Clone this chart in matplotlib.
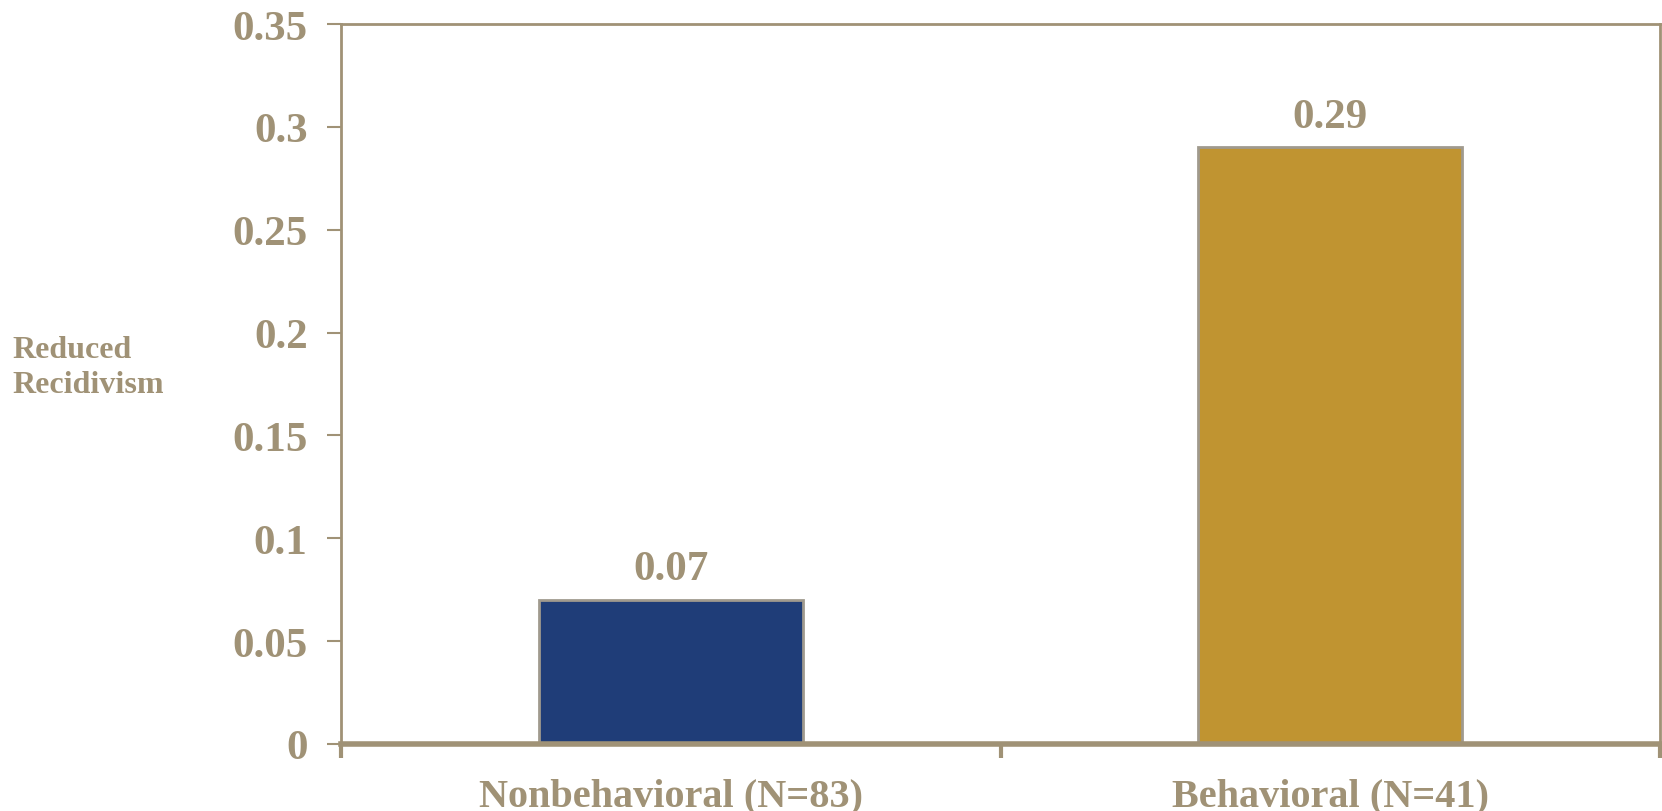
import matplotlib
matplotlib.use('Agg')
import matplotlib.pyplot as plt
import numpy as np

# chart data
categories = ['Nonbehavioral (N=83)', 'Behavioral (N=41)']
values = [0.07, 0.29]
bar_colors = ['#1F3D78', '#C09431']
y_ticks = [0, 0.05, 0.1, 0.15, 0.2, 0.25, 0.3, 0.35]
y_labels = ['0', '0.05', '0.1', '0.15', '0.2', '0.25', '0.3', '0.35']

text_color = '#A09276'
plt.rcParams['font.family'] = ['Liberation Serif', 'DejaVu Serif']
plt.rcParams['font.weight'] = 'bold'

fig = plt.figure(figsize=(16.62, 8.12), dpi=100)
ax = fig.add_axes([341 / 1662, 67 / 812, 1319 / 1662, 720 / 812])

x = np.arange(len(categories))
bars = ax.bar(x, values, width=0.4, color=bar_colors,
              edgecolor='#A09A8E', linewidth=2, zorder=2)

for xi, v in zip(x, values):
    ax.annotate(f'{v:.2f}', xy=(xi, v), xytext=(0, 22), textcoords='offset points',
                ha='center', va='center', fontsize=31, fontweight='bold',
                color=text_color)

ax.set_xlim(-0.5, 1.5)
ax.set_ylim(0, 0.35)

ax.set_yticks(y_ticks)
ax.set_yticklabels(y_labels)
ax.tick_params(axis='y', direction='out', length=10, width=1.5, color=text_color,
               pad=14, labelsize=31, labelcolor=text_color)

# category labels centred, tick marks on the category boundaries
ax.set_xticks(x)
ax.set_xticklabels(categories)
ax.tick_params(axis='x', which='major', length=0, pad=24, labelsize=29,
               labelcolor=text_color)
ax.set_xticks([-0.5, 0.5, 1.5], minor=True)
ax.tick_params(axis='x', which='minor', direction='out', length=10, width=3,
               color=text_color)

for side in ['left', 'top', 'right']:
    ax.spines[side].set_color(text_color)
    ax.spines[side].set_linewidth(2)
ax.spines['bottom'].set_color(text_color)
ax.spines['bottom'].set_linewidth(4)

fig.text(12 / 1662, 1 - 368 / 812, 'Reduced\nRecidivism', ha='left', va='center',
         fontsize=23, fontweight='bold', color=text_color, linespacing=1.25)

fig.savefig('out.png', dpi=100)
